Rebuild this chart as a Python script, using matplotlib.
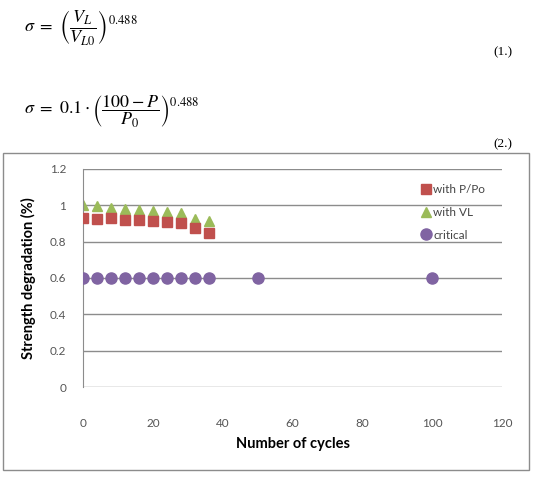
import matplotlib.pyplot as plt
from matplotlib.patches import Rectangle

# data
cycles = [0, 4, 8, 12, 16, 20, 24, 28, 32, 36]
with_p = [0.93, 0.925, 0.93, 0.92, 0.92, 0.915, 0.91, 0.905, 0.877, 0.85]
with_vl = [1.0, 0.995, 0.985, 0.98, 0.975, 0.97, 0.965, 0.96, 0.925, 0.915]
crit_cycles = [0, 4, 8, 12, 16, 20, 24, 28, 32, 36, 50, 100]
critical = [0.6] * len(crit_cycles)
x_ticks = [0, 20, 40, 60, 80, 100, 120]
y_ticks = [0, 0.2, 0.4, 0.6, 0.8, 1.0, 1.2]
y_labels = ["0", "0.2", "0.4", "0.6", "0.8", "1", "1.2"]

plt.rcParams['mathtext.fontset'] = 'stix'
plt.rcParams['font.family'] = ['Lato', 'DejaVu Sans']

W, H = 539, 479
fig = plt.figure(figsize=(W / 100, H / 100), dpi=100)

# equations above the chart
fig.text(24 / W, 1 - 27 / H, r'$\sigma\ =\ \left(\dfrac{V_L}{V_{L0}}\right)^{0.488}$',
         fontsize=13, va='center', ha='left')
fig.text(512 / W, 1 - 52 / H, '(1.)', fontsize=9.5, family='Liberation Serif',
         va='center', ha='right')
fig.text(24 / W, 1 - 112 / H, r'$\sigma\ =\ 0.1\cdot\left(\dfrac{100 - P}{P_0}\right)^{0.488}$',
         fontsize=13, va='center', ha='left')
fig.text(512 / W, 1 - 144 / H, '(2.)', fontsize=9.5, family='Liberation Serif',
         va='center', ha='right')

# chart frame
fig.patches.append(Rectangle((3 / W, 1 - 470 / H), 526 / W, 317 / H,
                             transform=fig.transFigure, fill=False,
                             edgecolor='#8c8c8c', linewidth=1))

ax = fig.add_axes([83 / W, 1 - 387 / H, 419 / W, 218 / H])
ax.set_xlim(0, 120)
ax.set_ylim(0, 1.2)
ax.set_yticks(y_ticks)
ax.set_yticklabels(y_labels)
ax.set_xticks(x_ticks)
ax.tick_params(length=0, labelsize=8.5, labelcolor='#555555')
ax.tick_params(axis='x', pad=22)
ax.tick_params(axis='y', pad=12)
for s in ['top', 'right', 'bottom']:
    ax.spines[s].set_visible(False)
ax.spines['left'].set_color('#8c8c8c')
ax.grid(axis='y', color='#8c8c8c', linewidth=1)
ax.set_axisbelow(True)

ax.plot(cycles, with_p, 's', color='#C0504D', markersize=7, label='with P/Po', zorder=3)
ax.plot(cycles, with_vl, '^', color='#9BBB59', markersize=7, label='with VL', zorder=2)
ax.plot(crit_cycles, critical, 'o', color='#8064A2', markersize=8, label='critical', zorder=3)

ax.set_xlabel('Number of cycles', fontsize=10.5, fontweight='bold', labelpad=6)
ax.set_ylabel('Strength degradation (%)', fontsize=10.5, fontweight='bold', labelpad=10)

ax.legend(loc='upper left', bbox_to_anchor=(0.785, 0.98), frameon=False,
          fontsize=8.5, handlelength=0.6, handletextpad=0.3, labelspacing=1.0,
          labelcolor='#444444')

fig.savefig('out.png', dpi=100)
